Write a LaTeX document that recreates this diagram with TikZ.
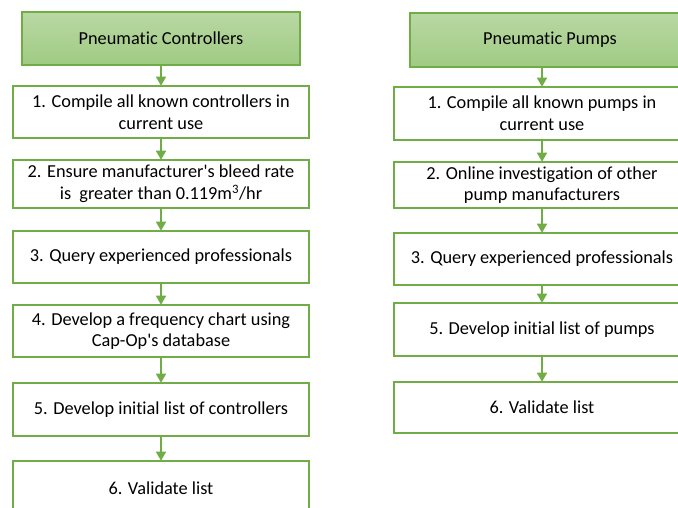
\documentclass[tikz,border=0pt]{standalone}
\usepackage{fontspec}
\setmainfont{Carlito}[Ligatures={TeXOff,CommonOff}]
\usetikzlibrary{arrows.meta}
\definecolor{gline}{HTML}{70AD47}
\definecolor{gtop}{RGB}{185,216,164}
\definecolor{gbot}{RGB}{160,203,131}
\tikzset{
  box/.style={draw=gline, line width=1.6pt, fill=white, align=center, inner sep=0pt,
    font=\fontsize{18.3}{21.7}\selectfont, text=black},
  head/.style={box, top color=gtop, bottom color=gbot},
  arr/.style={draw=gline, line width=1.6pt, -{Triangle[width=10pt,length=9pt]}, shorten >=-0.5pt}
}
\begin{document}
\begin{tikzpicture}[x=1pt,y=-1pt]
\useasboundingbox (0,0) rectangle (678,508);
\clip (0,0) rectangle (678,508);
% left column
\node[head, minimum width=278pt, minimum height=53pt] (LH) at (161,38.5) {Pneumatic Controllers};
\node[box, minimum width=296pt, minimum height=52pt] (L1) at (161,112) {1. Compile all known controllers in\\current use};
\node[box, minimum width=296pt, minimum height=48pt] (L2) at (161,184) {2. Ensure manufacturer's bleed rate\\is~ greater than 0.119m\textsuperscript{3}/hr};
\node[box, minimum width=296pt, minimum height=52pt] (L3) at (161,257) {3. Query experienced professionals};
\node[box, minimum width=296pt, minimum height=52pt] (L4) at (161,331) {4. Develop a frequency chart using\\Cap-Op's database};
\node[box, minimum width=296pt, minimum height=53pt] (L5) at (161,409.5) {5. Develop initial list of controllers};
\node[box, minimum width=296pt, minimum height=54pt] (L6) at (161,488) {6. Validate list};
% right column
\node[head, minimum width=280pt, minimum height=54pt] (RH) at (550,40) {Pneumatic Pumps};
\node[box, minimum width=296pt, minimum height=53pt] (R1) at (542,113.5) {1. Compile all known pumps in\\current use};
\node[box, minimum width=296pt, minimum height=46pt] (R2) at (542,185) {2. Online investigation of other\\pump manufacturers};
\node[box, minimum width=296pt, minimum height=52pt] (R3) at (542,259) {3. Query experienced professionals};
\node[box, minimum width=296pt, minimum height=53pt] (R5) at (542,329.5) {5. Develop initial list of pumps};
\node[box, minimum width=296pt, minimum height=51pt] (R6) at (542,407.5) {6. Validate list};
% arrows
\draw[arr] (LH.south) -- (L1.north);
\draw[arr] (L1.south) -- (L2.north);
\draw[arr] (L2.south) -- (L3.north);
\draw[arr] (L3.south) -- (L4.north);
\draw[arr] (L4.south) -- (L5.north);
\draw[arr] (L5.south) -- (L6.north);
\draw[arr] (RH.south -| R1.north) -- (R1.north);
\draw[arr] (R1.south) -- (R2.north);
\draw[arr] (R2.south) -- (R3.north);
\draw[arr] (R3.south) -- (R5.north);
\draw[arr] (R5.south) -- (R6.north);
\end{tikzpicture}
\end{document}
